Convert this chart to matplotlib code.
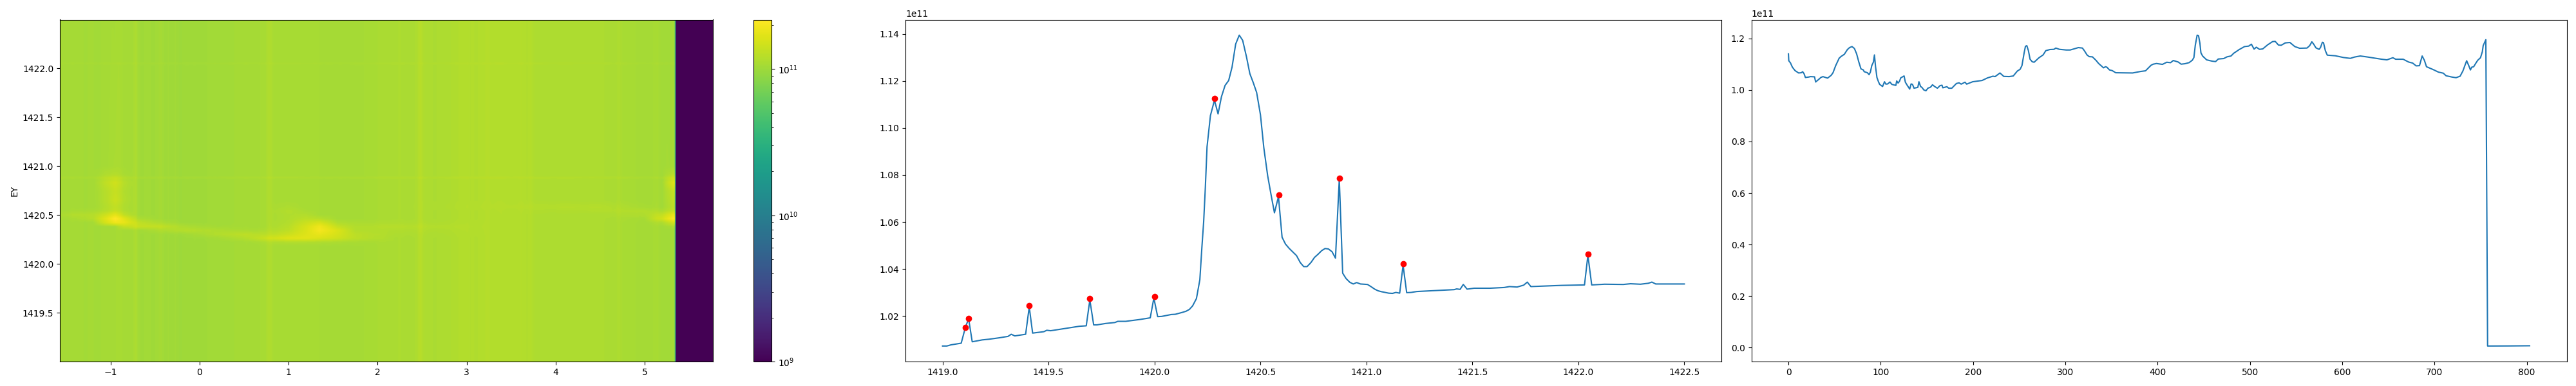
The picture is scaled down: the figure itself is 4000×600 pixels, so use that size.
import numpy as np
import matplotlib
matplotlib.use('Agg')
import matplotlib.pyplot as plt
from matplotlib.colors import LogNorm

# energy cut (middle panel), units of 1e11
energy = [1419.0, 1419.02, 1419.04, 1419.088, 1419.108, 1419.123, 1419.14, 1419.187, 1419.22, 1419.268,
          1419.309, 1419.324, 1419.341, 1419.392, 1419.409, 1419.425, 1419.478, 1419.492, 1419.51, 1419.58,
          1419.645, 1419.678, 1419.695, 1419.713, 1419.729, 1419.77, 1419.813, 1419.827, 1419.864, 1419.932,
          1419.98, 1419.997, 1420.015, 1420.034, 1420.079, 1420.098, 1420.131, 1420.149, 1420.165, 1420.18,
          1420.198, 1420.214, 1420.224, 1420.232, 1420.24, 1420.248, 1420.264, 1420.283, 1420.3, 1420.316,
          1420.333, 1420.35, 1420.366, 1420.383, 1420.4, 1420.416, 1420.434, 1420.45, 1420.466, 1420.482,
          1420.5, 1420.516, 1420.534, 1420.55, 1420.566, 1420.585, 1420.602, 1420.618, 1420.636, 1420.652,
          1420.67, 1420.688, 1420.704, 1420.72, 1420.738, 1420.755, 1420.771, 1420.789, 1420.805, 1420.821,
          1420.838, 1420.854, 1420.872, 1420.888, 1420.904, 1420.922, 1420.938, 1420.954, 1420.972, 1421.005,
          1421.023, 1421.039, 1421.055, 1421.072, 1421.105, 1421.123, 1421.139, 1421.157, 1421.173, 1421.19,
          1421.211, 1421.238, 1421.326, 1421.414, 1421.426, 1421.442, 1421.457, 1421.475, 1421.508, 1421.583,
          1421.65, 1421.675, 1421.711, 1421.742, 1421.759, 1421.776, 1421.921, 1422.029, 1422.045, 1422.063,
          1422.124, 1422.212, 1422.246, 1422.293, 1422.33, 1422.347, 1422.365, 1422.5]
energy_int = [1.0072, 1.0072, 1.0077, 1.0084, 1.0152, 1.0188, 1.009, 1.0098, 1.0101, 1.0107,
              1.0113, 1.0122, 1.0115, 1.0122, 1.0238, 1.0127, 1.0133, 1.0139, 1.0137, 1.0147,
              1.0156, 1.0158, 1.0268, 1.0162, 1.0162, 1.0168, 1.0172, 1.0177, 1.0177, 1.0185,
              1.0192, 1.0276, 1.0197, 1.0198, 1.0206, 1.0207, 1.0215, 1.022, 1.0228, 1.0243,
              1.0274, 1.0354, 1.0496, 1.06, 1.0747, 1.092, 1.1053, 1.1118, 1.106, 1.1133,
              1.1181, 1.1202, 1.1259, 1.1357, 1.1395, 1.1373, 1.1303, 1.1231, 1.1193, 1.1151,
              1.1056, 1.0915, 1.0797, 1.0716, 1.0639, 1.0708, 1.0535, 1.0506, 1.0487, 1.0473,
              1.0457, 1.0427, 1.041, 1.041, 1.0427, 1.0449, 1.0462, 1.0478, 1.0487, 1.0485,
              1.0473, 1.0446, 1.0782, 1.0382, 1.0359, 1.0343, 1.0336, 1.0342, 1.0336, 1.0334,
              1.0324, 1.0314, 1.0307, 1.0303, 1.0297, 1.0296, 1.03, 1.0297, 1.0416, 1.0299,
              1.03, 1.0304, 1.0308, 1.0312, 1.0315, 1.0313, 1.0334, 1.0314, 1.0318, 1.0318,
              1.0321, 1.0325, 1.0323, 1.0331, 1.0344, 1.0325, 1.033, 1.0332, 1.0458, 1.0332,
              1.0335, 1.0334, 1.0337, 1.0335, 1.0339, 1.0344, 1.0336, 1.0336]

peak_e = [1419.108, 1419.123, 1419.409, 1419.695, 1420.0, 1420.283, 1420.586, 1420.874, 1421.173, 1422.046]
peak_int = [1.0152, 1.019, 1.0244, 1.0274, 1.0283, 1.1125, 1.0716, 1.0787, 1.0422, 1.0464]

# angle cut (right panel), units of 1e11
index = [0, 0.4, 2.2, 4.3, 7.2, 11, 14, 15.4, 16.9, 18.4, 21.9, 24, 28.3, 29.5, 33.6, 35.1, 37.4, 42.4, 46.3, 48.3,
         51.2, 55, 57.1, 60.6, 63.9, 66.2, 68.9, 71.5, 73.9, 76.2, 78.6, 81.2, 82.1, 85.6, 87.4, 88.8, 90.3, 92.1,
         93.2, 94.4, 95.9, 97.4, 98.8, 102, 104.1, 105.6, 107.6, 110, 112, 116.4, 117.3, 118.8, 120.3, 121.7, 125.3,
         126.7, 128.5, 131.4, 132.9, 134.4, 136.1, 140.2, 141.4, 143.2, 144.6, 146.7, 149, 151.1, 154, 156.1, 158.4,
         161.4, 164.3, 166.4, 167.3, 171.7, 173.7, 177, 182, 184.9, 187.2, 191.3, 193.1, 199.6, 209.8, 215.7, 221.6,
         223.9, 229.2, 233.3, 239.2, 243.6, 248, 251, 253, 255.4, 256.8, 258.3, 260, 261.8, 264.2, 266.2, 271.5,
         275.9, 278.9, 283.3, 287.7, 289.7, 293.6, 300.9, 305.3, 314.1, 318.5, 320.6, 323.5, 325.9, 329.4, 333.2,
         336.1, 341.4, 343.5, 345, 347.9, 350.8, 354.6, 372.9, 381.6, 386.9, 392.9, 395.2, 398.8, 405.2, 409.9, 414,
         417, 422.3, 425.5, 429.6, 434, 437.5, 439.3, 440.8, 442.8, 444.3, 445.8, 446.9, 448.7, 453.1, 459, 462.8,
         465.7, 471.6, 475.1, 479.5, 482.5, 488.4, 494.2, 498.6, 501.6, 504.5, 506.9, 510.4, 513.9, 519.2, 524.5,
         527.4, 530.9, 533.9, 538.3, 543.3, 548.6, 553.8, 561.8, 564.7, 567.1, 569.1, 571.5, 575, 576.5, 578.5,
         579.7, 581.7, 583.8, 592.6, 601.4, 608.8, 613.2, 619.6, 627.9, 642.6, 648.4, 654.9, 657.8, 666, 671.9,
         676.3, 680.1, 683.7, 686.6, 689, 691.3, 698.4, 704.2, 709.5, 712.5, 718.9, 723.3, 727.7, 730.7, 734.8,
         737.1, 738.9, 740.3, 742.4, 744.5, 746.8, 749.8, 751.8, 752.7, 755.6, 757.5, 780, 803]
index_int = [1.14, 1.1133, 1.105, 1.0883, 1.075, 1.0658, 1.0667, 1.0708, 1.0633, 1.0483, 1.05, 1.0517, 1.0508, 1.0308,
             1.0433, 1.0483, 1.0517, 1.0458, 1.0567, 1.0667, 1.0942, 1.1233, 1.13, 1.1383, 1.1567, 1.1642, 1.1683,
             1.1608, 1.14, 1.1092, 1.0817, 1.0775, 1.0708, 1.0667, 1.0592, 1.0692, 1.0942, 1.1083, 1.1358, 1.09,
             1.0483, 1.0333, 1.0217, 1.0133, 1.0317, 1.0225, 1.0233, 1.0308, 1.0217, 1.0175, 1.035, 1.0267, 1.0333,
             1.0467, 1.0542, 1.03, 1.0192, 1.0033, 1.0233, 1.0217, 1.0067, 1.01, 1.0317, 1.0133, 1.01, 1.0, 0.9967,
             1.0067, 1.0108, 1.02, 1.0133, 1.0067, 1.0167, 1.0183, 1.0083, 1.0125, 1.0067, 1.0067, 1.025, 1.0275,
             1.0225, 1.03, 1.0225, 1.0317, 1.0367, 1.0467, 1.0533, 1.0517, 1.0658, 1.0525, 1.0517, 1.0542, 1.0733,
             1.08, 1.0942, 1.1442, 1.1692, 1.1717, 1.1525, 1.1192, 1.1092, 1.1075, 1.125, 1.1358, 1.1525, 1.1567,
             1.1575, 1.1625, 1.1575, 1.155, 1.155, 1.1642, 1.1625, 1.1525, 1.1358, 1.1292, 1.1283, 1.115, 1.1025,
             1.0858, 1.09, 1.0883, 1.0775, 1.075, 1.0667, 1.0658, 1.0717, 1.0742, 1.0958, 1.1, 1.1025, 1.0992, 1.1075,
             1.1058, 1.1142, 1.1083, 1.1, 1.1017, 1.1058, 1.115, 1.1258, 1.1733, 1.2125, 1.2108, 1.1817, 1.1442,
             1.1317, 1.1167, 1.1117, 1.11, 1.12, 1.1217, 1.1283, 1.1317, 1.1425, 1.1567, 1.1683, 1.17, 1.1775, 1.1583,
             1.1658, 1.1575, 1.1592, 1.175, 1.1875, 1.1883, 1.1742, 1.1733, 1.1825, 1.1842, 1.1683, 1.1617, 1.1625,
             1.1717, 1.1867, 1.1775, 1.1633, 1.1575, 1.165, 1.185, 1.1833, 1.1525, 1.135, 1.1325, 1.1258, 1.1225,
             1.1275, 1.1317, 1.1275, 1.1192, 1.1167, 1.125, 1.1192, 1.1192, 1.1083, 1.1042, 1.0933, 1.0942, 1.1317,
             1.115, 1.09, 1.0792, 1.0692, 1.065, 1.055, 1.05, 1.0475, 1.0533, 1.0733, 1.1133, 1.0942, 1.0775, 1.0883,
             1.09, 1.1025, 1.115, 1.125, 1.1483, 1.1717, 1.195, 0.0065, 0.0068, 0.0075]

# heatmap: background share per column
share_x = [-1.57, -1.4, -1.2, -1.05, -0.95, -0.85, -0.7, 0.5, 0.7, 0.79, 0.87, 1.0, 1.35, 1.55, 1.75, 5.1, 5.25, 5.34, 5.345]
share_val = [0.96, 1, 1, 0.94, 0.91, 0.98, 1, 1, 1, 0.98, 0.97, 0.93, 0.92, 0.97, 1, 1, 0.93, 0.88, 1]

# bright features on top of the background, coarse table in units of 1e11
map_x = [-1.57, -1.4, -1.2, -1.05, -0.95, -0.85, -0.7, -0.45, -0.15, 0.2, 0.5, 0.76,
         1.0, 1.2, 1.35, 1.55, 1.75, 2.2, 3.3, 4.0, 4.5, 5.0, 5.2, 5.34, 5.345]
map_e = [1419.0, 1420.18, 1420.22, 1420.26, 1420.30, 1420.34, 1420.38, 1420.42, 1420.46,
         1420.50, 1420.54, 1420.58, 1420.65, 1420.74, 1420.83, 1420.92, 1421.0, 1422.5]
map_extra = [
    [0, 0, 0, 0, 0, 0, 0, 0, 0, 0, 0, 0, 0, 0, 0, 0, 0, 0, 0, 0, 0, 0, 0, 0, 0],
    [0, 0, 0, 0, 0, 0, 0, 0, 0, 0, 0, 0, 0, 0, 0, 0, 0, 0, 0, 0, 0, 0, 0, 0, 0],
    [0, 0, 0, 0, 0, 0, 0, 0, 0, 0, 0, .05, .1, .1, .08, .06, .03, 0, 0, 0, 0, 0, 0, 0, 0],
    [0, 0, 0, 0, 0, 0, 0, 0, 0, .03, .12, .35, .6, .65, .55, .4, .2, 0, 0, 0, 0, 0, 0, 0, 0],
    [0, 0, 0, 0, 0, 0, 0, 0, .03, .15, .22, .15, .35, .6, .75, .5, .2, .02, 0, 0, 0, 0, 0, 0, 0],
    [0, 0, 0, 0, 0, 0, 0, .1, .2, .12, .04, .05, .2, .55, .95, .55, .12, .05, 0, 0, 0, 0, 0, 0, 0],
    [0, 0, 0, 0, 0, .3, .35, .3, .1, .02, 0, 0, .15, .5, .85, .3, .1, .1, 0, 0, 0, 0, 0, .1, 0],
    [0, 0, 0, .5, .85, .75, .3, .1, 0, 0, 0, 0, .1, .35, .5, .1, .05, .03, 0, 0, 0, 0, .1, .5, 0],
    [0, .05, .15, .65, 1.12, .65, .1, 0, 0, 0, 0, 0, .08, .2, .15, 0, 0, 0, 0, 0, 0, .02, .45, 1.13, 0],
    [.05, .12, .15, .4, .7, .25, 0, 0, 0, 0, 0, 0, .08, .1, 0, 0, 0, 0, 0, 0, 0, .1, .3, .8, 0],
    [0, .03, .05, .15, .3, .1, 0, 0, 0, 0, 0, 0, .1, .03, 0, 0, 0, 0, 0, .02, .05, .12, .08, .35, 0],
    [0, 0, 0, .12, .25, .08, 0, 0, 0, 0, 0, 0, .05, 0, 0, 0, 0, 0, .02, .06, .07, .03, 0, .25, 0],
    [0, 0, 0, .15, .35, .12, 0, 0, 0, 0, 0, 0, 0, 0, 0, 0, 0, 0, 0, 0, 0, 0, 0, .3, 0],
    [0, 0, 0, .15, .3, .1, 0, 0, 0, 0, 0, 0, 0, 0, 0, 0, 0, 0, 0, 0, 0, 0, 0, .35, 0],
    [0, 0, 0, .25, .42, .15, 0, 0, 0, 0, 0, 0, 0, 0, 0, 0, 0, 0, 0, 0, 0, 0, 0, .7, 0],
    [0, 0, 0, .08, .12, .03, 0, 0, 0, 0, 0, 0, 0, 0, 0, 0, 0, 0, 0, 0, 0, 0, 0, .2, 0],
    [0, 0, 0, 0, .03, 0, 0, 0, 0, 0, 0, 0, 0, 0, 0, 0, 0, 0, 0, 0, 0, 0, 0, .03, 0],
    [0, 0, 0, 0, 0, 0, 0, 0, 0, 0, 0, 0, 0, 0, 0, 0, 0, 0, 0, 0, 0, 0, 0, 0, 0],
]
# faint horizontal lines in the map
line_e = [1420.86, 1420.88, 1420.90, 1422.03, 1422.05, 1422.07]
line_gain = [1, 1.05, 1, 1, 1.025, 1]

x_min, x_max = -1.57, 5.767
e_min, e_max = 1419.0, 1422.5
n_index = 803

# fine grid for the picture
grid_x = np.linspace(x_min, x_max, 1600)
grid_e = np.linspace(e_min, e_max, 530)
column = np.interp((grid_x - x_min) / (x_max - x_min) * n_index, index, index_int)
share = np.interp(grid_x, share_x, share_val)
extra_cols = np.array([np.interp(grid_x, map_x, row) for row in map_extra])
extra = np.array([np.interp(grid_e, map_e, extra_cols[:, j]) for j in range(len(grid_x))]).T
gain = np.interp(grid_e, line_e, line_gain)
heat = (column * share + extra) * gain[:, None] * 1e11

W, H = 4000.0, 600.0
def rect(x0, x1, top=30.5, bottom=562.0):
    return [x0 / W, 1 - bottom / H, (x1 - x0) / W, (bottom - top) / H]

fig = plt.figure(figsize=(40, 6), dpi=100)

ax1 = fig.add_axes(rect(93, 1107))
im = ax1.imshow(heat, origin='lower', aspect='auto', extent=[x_min, x_max, e_min, e_max],
                cmap='viridis', norm=LogNorm(vmin=1e9, vmax=2.18e11))
ax1.set_ylabel('EY')
ax1.set_xticks([-1, 0, 1, 2, 3, 4, 5])
ax1.set_yticks([1419.5, 1420.0, 1420.5, 1421.0, 1421.5, 1422.0])
cax = fig.add_axes(rect(1170, 1198))
fig.colorbar(im, cax=cax)

ax2 = fig.add_axes(rect(1406, 2673))
ax2.plot(energy, np.array(energy_int) * 1e11)
ax2.plot(peak_e, np.array(peak_int) * 1e11, 'ro')

ax3 = fig.add_axes(rect(2719.5, 3985.5))
ax3.plot(index, np.array(index_int) * 1e11)

fig.savefig('out.png', dpi=100)
